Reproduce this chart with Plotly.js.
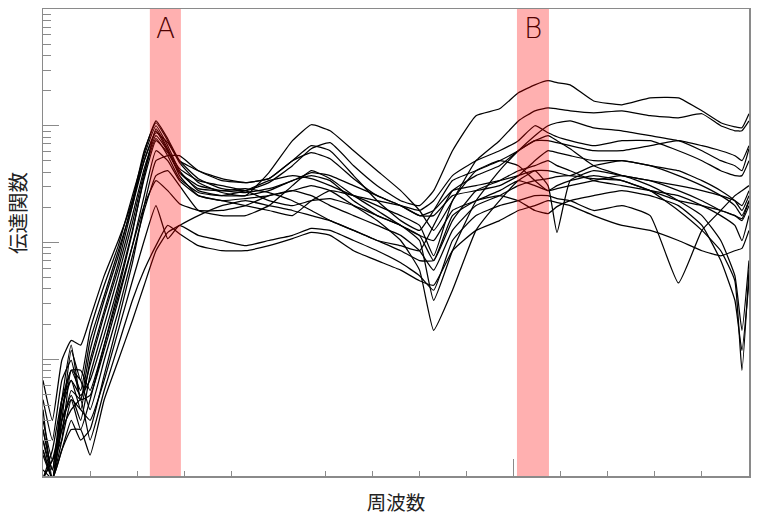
<!DOCTYPE html>
<html>
<head>
<meta charset="utf-8">
<script src="https://cdn.plot.ly/plotly-3.0.1.min.js"></script>
<style>html,body{margin:0;padding:0;background:#fff;}#chart{width:760px;height:523px;}</style>
</head>
<body>
<div id="chart"></div>
<script>
// frequency (x-axis units, tick spacing = 1)
const freq = [0, 0.2, 0.4, 0.6, 0.8, 1.0, 1.3, 1.6, 1.9, 2.15, 2.4, 2.65, 2.9, 3.3, 3.8, 4.3, 4.8, 5.3, 5.7, 6.1, 6.6, 7.1, 7.6, 8.0, 8.3, 8.7, 9.2, 9.7, 10.1, 10.45, 10.73, 10.92, 11.2, 11.7, 12.3, 12.9, 13.5, 14.0, 14.4, 14.7, 14.85, 15.0];

// transfer function magnitudes, one array per measurement
const s1 = [2.5,1.13,4.5,6.6,3.7,9.8,26,67,207,588,1100,774,502,352,289,278,326,455,636,716,455,307,228,207,278,611,1220,1397,1914,2240,2430,2340,2240,1630,1512,1735,1735,1343,1061,980,961,1267];
const s2 = [4.5,2.03,6.6,9.8,4.5,11.9,32,77,228,611,1061,745,483,326,268,252,397,745,1020,906,611,412,278,188,127,228,502,745,1100,1343,1425,1397,1343,1291,1343,1220,1170,1267,1000,906,906,1100];
const s3 = [1.67,0.95,3.0,11.9,6.6,17.7,43,94,252,554,1000,675,412,278,252,252,278,339,374,339,228,170,140,104,32,85,228,412,611,822,1000,1061,1100,961,906,822,745,611,502,455,412,636];
const s4 = [0.95,1.37,2.03,4.5,2.5,4.5,13.2,39,122,374,942,636,374,252,228,238,252,278,307,278,207,154,104,58,17.7,39,127,228,339,412,412,397,374,455,502,455,412,339,278,228,188,252];
const s5 = [6.6,3.0,9.8,14.5,13.2,22.4,52,104,228,502,906,611,397,289,278,289,268,228,188,154,127,104,94,85,140,278,374,455,611,745,822,745,636,455,374,339,278,228,188,170,160,228];
const s6 = [2.03,0.95,4.5,13.2,4.5,8.9,24,60,170,429,822,611,429,339,307,278,228,207,228,238,207,170,140,115,70,154,278,339,412,455,502,455,412,339,307,278,252,207,170,140,104,170];
const s7 = [1.13,0.95,1.67,3.0,2.03,2.5,7.3,21.5,67,207,502,554,554,412,339,326,352,502,675,611,374,228,154,127,188,339,412,502,611,745,745,716,675,611,611,675,745,675,611,554,502,675];
const s8 = [3.0,1.37,2.5,5.4,4.5,4.9,11.9,32,94,252,611,502,339,252,228,207,188,170,228,278,252,207,170,140,77,228,412,502,455,339,278,307,339,374,339,278,188,127,85,47,8.05,58];
const s9 = [3.7,0.95,2.03,8.05,6.6,3.7,9.8,26,77,188,374,412,307,188,170,170,207,307,412,352,252,188,140,115,104,188,228,278,339,307,278,289,307,339,374,307,228,170,104,52,17.7,70];
const s10 = [0.95,1.37,3.0,4.5,3.7,3.0,6.6,17.7,47,104,207,108,140,115,104,94,104,115,132,127,104,85,67,52,39,104,170,207,228,252,252,238,228,188,207,170,45,127,188,252,278,307];
const s11 = [1.51,0.95,2.5,3.7,4.5,2.03,5.4,13.2,32,58,94,140,119,94,85,85,94,108,122,115,85,70,58,47,43,85,127,154,188,207,228,220,207,170,140,127,104,85,77,85,89,127];
const s12 = [2.03,1.13,3.7,6.6,4.9,6.6,16,43,127,352,745,588,397,307,278,268,289,339,397,374,307,252,207,170,188,278,307,339,374,412,307,122,339,412,374,339,307,278,252,228,207,278];
const s13 = [0.95,1.67,4.5,8.05,5.4,14.5,35,85,207,502,871,716,502,412,352,326,352,502,588,522,352,252,207,170,170,252,278,307,374,502,611,588,554,502,502,455,374,307,252,207,170,228];
const s14 = [1.67,0.95,3.0,4.9,3.0,7.3,19.5,52,148,397,774,554,352,268,252,278,339,374,352,307,252,228,207,188,228,374,502,611,745,1000,871,805,745,675,745,745,611,502,412,374,374,502];
const s15 = [2.5,1.13,3.7,8.05,8.05,5.4,13.2,35,94,207,339,278,215,188,188,207,252,278,252,207,170,140,115,85,58,127,207,252,307,339,352,366,374,352,339,278,228,207,188,170,154,207];
const s16 = [0.95,0.95,1.67,2.5,2.5,1.51,4.5,9.8,21.5,43,85,122,140,170,207,228,207,188,170,154,127,104,85,70,70,170,228,252,228,188,177,203,228,252,278,252,207,140,70,32,11.9,47];

const series = [s1,s2,s3,s4,s5,s6,s7,s8,s9,s10,s11,s12,s13,s14,s15,s16];

// highlighted bands and their labels
const bandLabels = ['A', 'B'];
const bandStart = [2.27, 10.07];
const bandEnd = [2.93, 10.75];

// axis tick positions
const yMajorTicks = [1, 10, 100, 1000, 10000];
const yMinorTicks = [2,3,4,5,6,7,8,9,20,30,40,50,60,70,80,90,200,300,400,500,600,700,800,900,2000,3000,4000,5000,6000,7000,8000,9000];
const xMinorTicks = [1,2,3,4,6,7,8,9,11,12,13,14];
const xMidTicks = [5];
const xLongTicks = [10];

const xTitle = '周波数';
const yTitle = '伝達関数';

const traces = series.map(ys => ({
  x: freq, y: ys, type: 'scatter', mode: 'lines',
  line: {color: '#000', width: 1.25, shape: 'spline', smoothing: 0.4},
  hoverinfo: 'skip', showlegend: false
}));

const axisGray = '#8a8a8a';
const cjk = '"Noto Sans CJK JP", "Noto Sans", sans-serif';

const shapes = bandLabels.map((_, i) => ({
  type: 'rect', xref: 'x', yref: 'paper',
  x0: bandStart[i], x1: bandEnd[i], y0: 0, y1: 1,
  fillcolor: 'rgba(255,0,0,0.31)', line: {width: 0}, layer: 'above'
}));

const annotations = bandLabels.map((t, i) => ({
  text: t, xref: 'x', yref: 'paper',
  x: (bandStart[i] + bandEnd[i]) / 2, y: 0.959,
  showarrow: false, xanchor: 'center', yanchor: 'middle',
  font: {family: '"DejaVu Sans", sans-serif', size: 28, color: 'rgb(80,0,0)', weight: 200}
}));
annotations.push({
  text: yTitle, xref: 'paper', yref: 'paper', x: -0.037, y: 0.563,
  textangle: -90, showarrow: false, xanchor: 'center', yanchor: 'middle',
  font: {family: cjk, size: 20.5, color: '#222'}
});

const layout = {
  width: 760, height: 523,
  margin: {l: 43, r: 11, t: 9, b: 47, pad: 0},
  paper_bgcolor: '#fff', plot_bgcolor: '#fff',
  showlegend: false,
  xaxis: {
    range: [0, 15], showgrid: false, zeroline: false,
    showline: true, mirror: true, linecolor: axisGray, linewidth: 1.5,
    ticks: 'inside', tickmode: 'array', tickvals: xLongTicks, ticklen: 17, tickcolor: axisGray, tickwidth: 1,
    minor: {ticks: 'inside', tickmode: 'array', tickvals: xMinorTicks, ticklen: 5, tickcolor: axisGray, tickwidth: 1, showgrid: false},
    showticklabels: false,
    title: {text: xTitle, standoff: 20, font: {family: cjk, size: 19.5, color: '#222'}},
    automargin: false
  },
  xaxis2: {
    overlaying: 'x', anchor: 'y', side: 'bottom', range: [0, 15],
    showgrid: false, zeroline: false, showline: false,
    ticks: 'inside', tickmode: 'array', tickvals: xMidTicks, ticklen: 9, tickcolor: axisGray, tickwidth: 1,
    showticklabels: false
  },
  yaxis: {
    type: 'log', range: [0, 4], showgrid: false, zeroline: false,
    showline: true, mirror: true, linecolor: axisGray, linewidth: 1.5,
    ticks: 'inside', tickmode: 'array', tickvals: yMajorTicks, ticklen: 16, tickcolor: axisGray, tickwidth: 1,
    minor: {ticks: 'inside', tickmode: 'array', tickvals: yMinorTicks, ticklen: 8, tickcolor: axisGray, tickwidth: 1, showgrid: false},
    showticklabels: false, automargin: false
  },
  shapes: shapes,
  annotations: annotations
};

Plotly.newPlot('chart', traces, layout, {staticPlot: true, displayModeBar: false});
</script>
</body>
</html>
